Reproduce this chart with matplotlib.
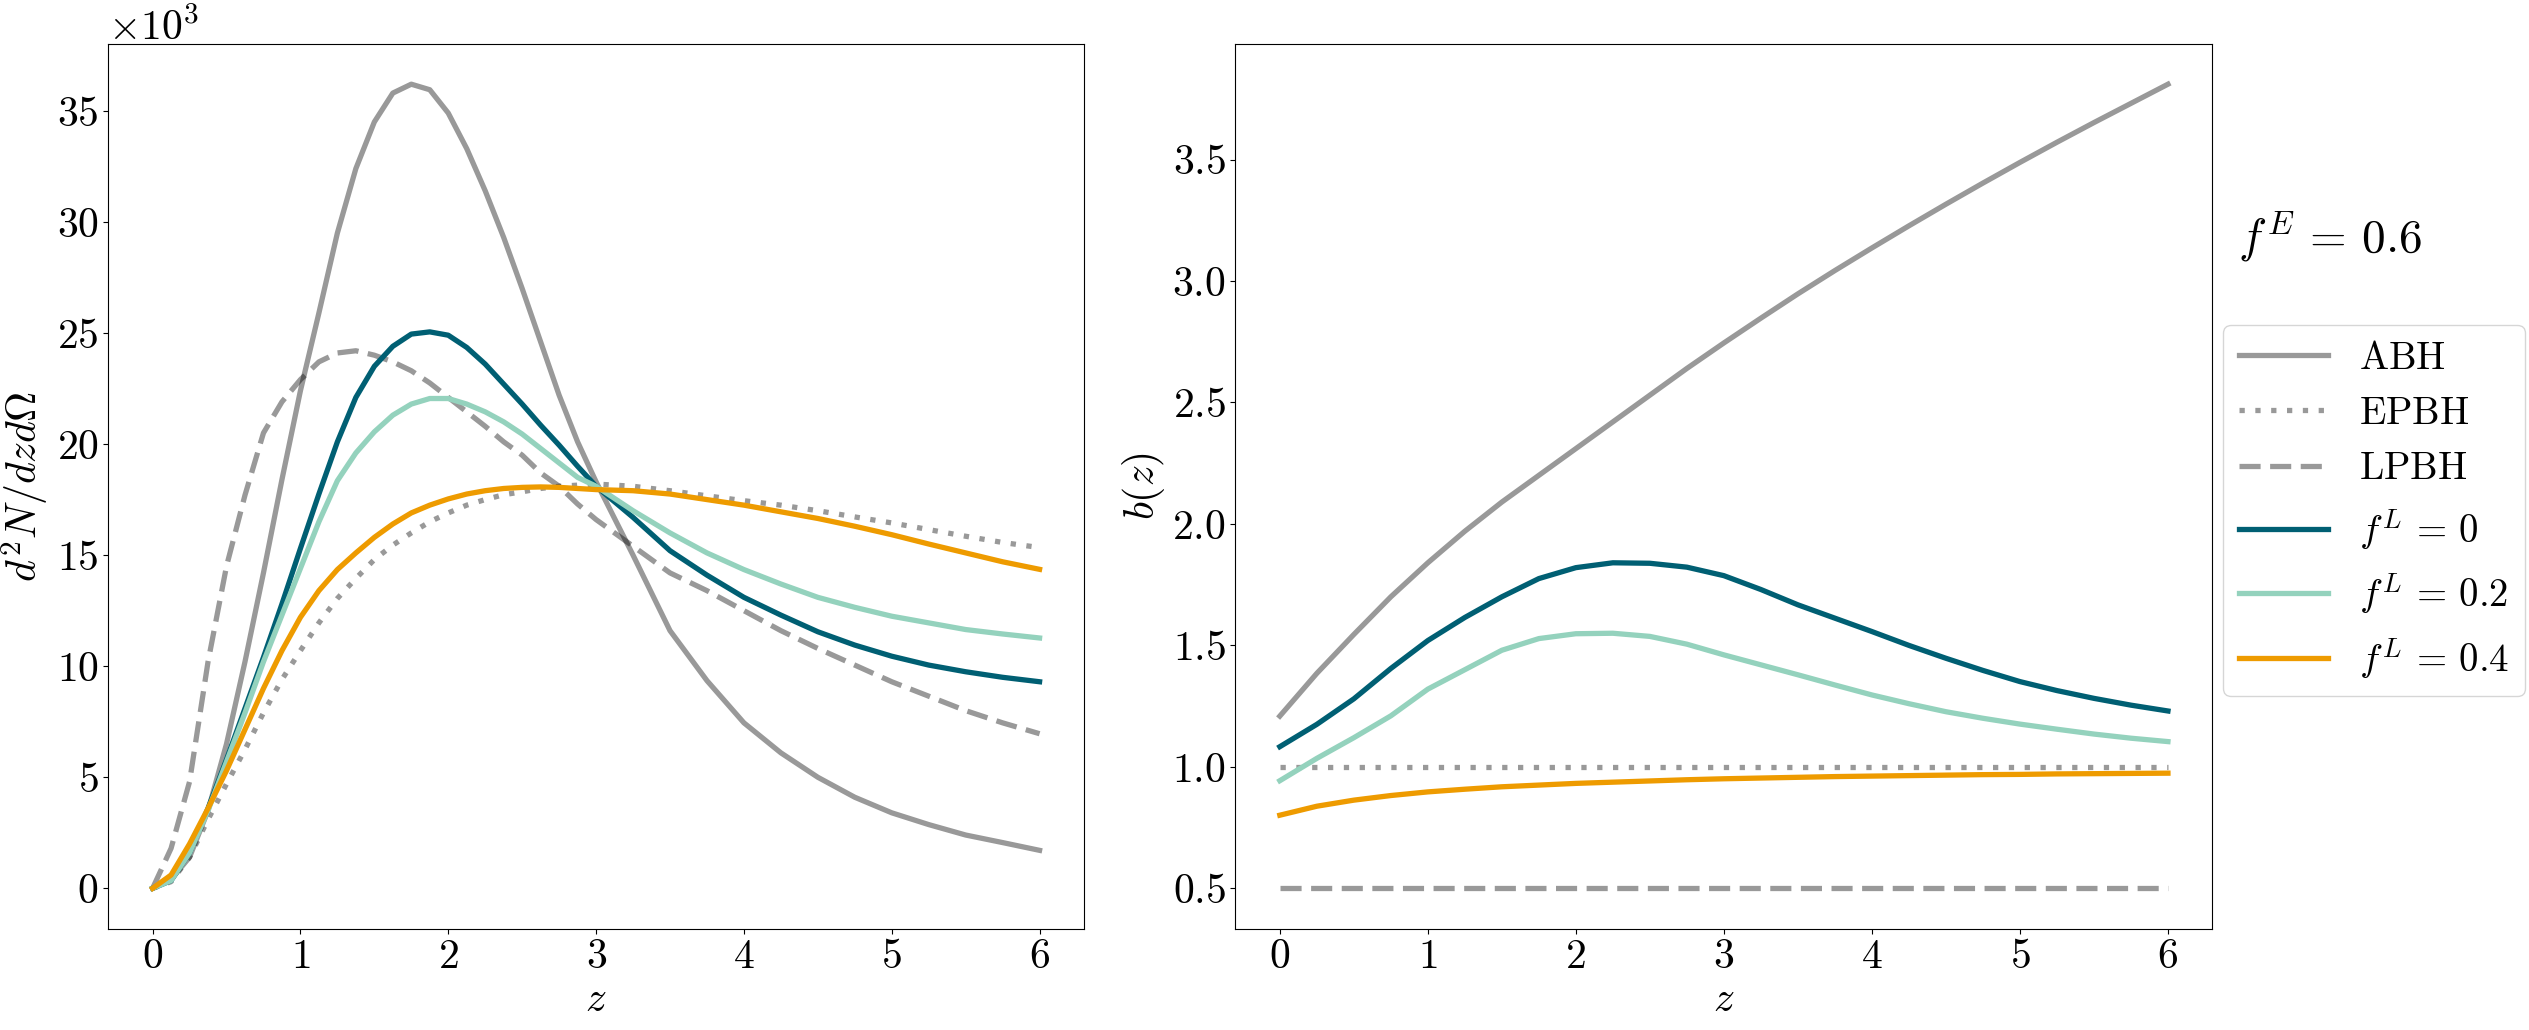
import matplotlib
matplotlib.use('Agg')
import matplotlib.pyplot as plt
import numpy as np

# fonte estilo LaTeX (Computer Modern)
plt.rcParams['font.family'] = 'serif'
plt.rcParams['font.serif'] = ['cmr10']
plt.rcParams['mathtext.fontset'] = 'cm'
plt.rcParams['axes.formatter.use_mathtext'] = True
plt.rcParams['axes.unicode_minus'] = False

# grade em z do painel esquerdo (mais fina ate z=3)
z_n = [0.0, 0.125, 0.25, 0.375, 0.5, 0.625, 0.75, 0.875, 1.0, 1.125, 1.25, 1.375,
       1.5, 1.625, 1.75, 1.875, 2.0, 2.125, 2.25, 2.375, 2.5, 2.625, 2.75, 2.875,
       3.0, 3.25, 3.5, 3.75, 4.0, 4.25, 4.5, 4.75, 5.0, 5.25, 5.5, 5.75, 6.0]

# d2N/dz dOmega em unidades de 10^3
dn_abh = [0, 0.4, 1.4, 3.5, 6.5, 10.2, 14.2, 18.4, 22.4, 25.9, 29.5, 32.4,
          34.5, 35.8, 36.2, 35.95, 34.9, 33.3, 31.4, 29.3, 27.0, 24.6, 22.2, 20.1,
          18.3, 15.0, 11.6, 9.35, 7.45, 6.1, 5.0, 4.1, 3.4, 2.87, 2.4, 2.06, 1.71]
dn_epbh = [0, 0.3, 1.4, 3.1, 4.7, 6.25, 7.9, 9.4, 10.7, 11.95, 13.05, 13.95,
           14.8, 15.45, 16.0, 16.5, 16.9, 17.25, 17.5, 17.72, 17.85, 18.0, 18.1, 18.15,
           18.2, 18.1, 17.9, 17.67, 17.45, 17.25, 17.0, 16.72, 16.45, 16.15, 15.85, 15.57, 15.34]
dn_lpbh = [0, 1.8, 4.8, 10.2, 14.5, 17.7, 20.5, 21.9, 22.9, 23.7, 24.1, 24.2,
           24.0, 23.7, 23.3, 22.75, 22.1, 21.45, 20.8, 20.1, 19.5, 18.7, 18.1, 17.3,
           16.6, 15.4, 14.2, 13.4, 12.5, 11.6, 10.8, 10.05, 9.3, 8.65, 8.0, 7.45, 6.96]
dn_f0 = [0, 0.35, 1.6, 3.6, 5.8, 8.1, 10.4, 12.8, 15.3, 17.75, 20.1, 22.1,
         23.5, 24.4, 24.95, 25.05, 24.9, 24.35, 23.6, 22.7, 21.8, 20.85, 19.95, 19.0,
         18.1, 16.7, 15.2, 14.1, 13.1, 12.3, 11.55, 10.95, 10.45, 10.05, 9.75, 9.5, 9.3]
dn_f02 = [0, 0.35, 1.6, 3.5, 5.7, 7.9, 10.2, 12.3, 14.4, 16.5, 18.35, 19.6,
          20.55, 21.3, 21.8, 22.05, 22.05, 21.8, 21.45, 21.0, 20.45, 19.8, 19.15, 18.5,
          18.1, 17.0, 16.0, 15.1, 14.35, 13.7, 13.1, 12.65, 12.25, 11.95, 11.65, 11.45, 11.27]
dn_f04 = [0, 0.6, 2.0, 3.6, 5.3, 7.15, 9.0, 10.7, 12.2, 13.4, 14.35, 15.1,
          15.8, 16.4, 16.9, 17.25, 17.53, 17.75, 17.9, 18.0, 18.05, 18.07, 18.05, 18.0,
          17.95, 17.9, 17.75, 17.5, 17.25, 16.95, 16.65, 16.3, 15.92, 15.5, 15.1, 14.7, 14.36]

# grade em z do painel direito
z_b = [0.0, 0.25, 0.5, 0.75, 1.0, 1.25, 1.5, 1.75, 2.0, 2.25, 2.5, 2.75, 3.0,
       3.25, 3.5, 3.75, 4.0, 4.25, 4.5, 4.75, 5.0, 5.25, 5.5, 5.75, 6.0]

# bias b(z)
b_abh = [1.209, 1.385, 1.545, 1.70, 1.84, 1.97, 2.09, 2.20, 2.31, 2.42, 2.53, 2.64, 2.745,
         2.847, 2.947, 3.043, 3.136, 3.227, 3.316, 3.403, 3.488, 3.571, 3.652, 3.731, 3.81]
b_epbh = [1.0] * len(z_b)
b_lpbh = [0.5] * len(z_b)
b_f0 = [1.083, 1.175, 1.28, 1.405, 1.52, 1.615, 1.70, 1.775, 1.82, 1.84, 1.838, 1.822, 1.787,
        1.73, 1.667, 1.612, 1.557, 1.50, 1.447, 1.397, 1.351, 1.314, 1.282, 1.254, 1.230]
b_f02 = [0.943, 1.035, 1.12, 1.21, 1.32, 1.40, 1.48, 1.528, 1.548, 1.55, 1.537, 1.505, 1.461,
         1.42, 1.379, 1.337, 1.296, 1.26, 1.227, 1.20, 1.176, 1.155, 1.135, 1.118, 1.104]
b_f04 = [0.801, 0.838, 0.863, 0.882, 0.897, 0.908, 0.918, 0.925, 0.932, 0.937, 0.942, 0.947, 0.951,
         0.954, 0.957, 0.960, 0.962, 0.964, 0.966, 0.968, 0.969, 0.971, 0.972, 0.973, 0.974]

labels = [r'$\mathrm{ABH}$', r'$\mathrm{EPBH}$', r'$\mathrm{LPBH}$',
          r'$f^L\,=\,0$', r'$f^L\,=\,0.2$', r'$f^L\,=\,0.4$']

lw = 3.8
dotted = (0, (1, 2.0))
dashed = (0, (4.0, 1.8))
teal = '#005f73'
mint = '#94d2bd'
orange = '#ee9b00'

fig = plt.figure(figsize=(25.29, 10.30), dpi=100)
ax1 = fig.add_axes([0.0428, 0.0985, 0.3858, 0.8588])
ax2 = fig.add_axes([0.4885, 0.0985, 0.3863, 0.8588])

# painel esquerdo
zn = np.array(z_n)
ax1.plot(zn, np.array(dn_abh) * 1e3, color='k', alpha=0.4, lw=lw)
ax1.plot(zn, np.array(dn_epbh) * 1e3, color='k', alpha=0.4, lw=lw, ls=dotted)
ax1.plot(zn, np.array(dn_lpbh) * 1e3, color='k', alpha=0.4, lw=lw, ls=dashed)
ax1.plot(zn, np.array(dn_f0) * 1e3, color=teal, lw=lw)
ax1.plot(zn, np.array(dn_f02) * 1e3, color=mint, lw=lw)
ax1.plot(zn, np.array(dn_f04) * 1e3, color=orange, lw=lw)
ax1.ticklabel_format(axis='y', style='sci', scilimits=(3, 3), useMathText=True)
ax1.set_xlabel(r'$z$', fontsize=30)
ax1.set_ylabel(r'$d^2N/dzd\Omega$', fontsize=30)
ax1.tick_params(labelsize=30)
ax1.yaxis.get_offset_text().set_fontsize(30)

# painel direito
ax2.plot(z_b, b_abh, color='k', alpha=0.4, lw=lw, label=labels[0])
ax2.plot(z_b, b_epbh, color='k', alpha=0.4, lw=lw, ls=dotted, label=labels[1])
ax2.plot(z_b, b_lpbh, color='k', alpha=0.4, lw=lw, ls=dashed, label=labels[2])
ax2.plot(z_b, b_f0, color=teal, lw=lw, label=labels[3])
ax2.plot(z_b, b_f02, color=mint, lw=lw, label=labels[4])
ax2.plot(z_b, b_f04, color=orange, lw=lw, label=labels[5])
ax2.set_xlabel(r'$z$', fontsize=30)
ax2.set_ylabel(r'$b(z)$', fontsize=30)
ax2.tick_params(labelsize=30)

ax2.legend(loc='upper left', bbox_to_anchor=(1.011, 0.682), borderaxespad=0,
           fontsize=28, handlelength=2.3)
fig.text(0.885, 1 - 253 / 1030, r'$f^E\,=\,0.6$', fontsize=34, va='baseline')

plt.savefig('out.png', dpi=100)
